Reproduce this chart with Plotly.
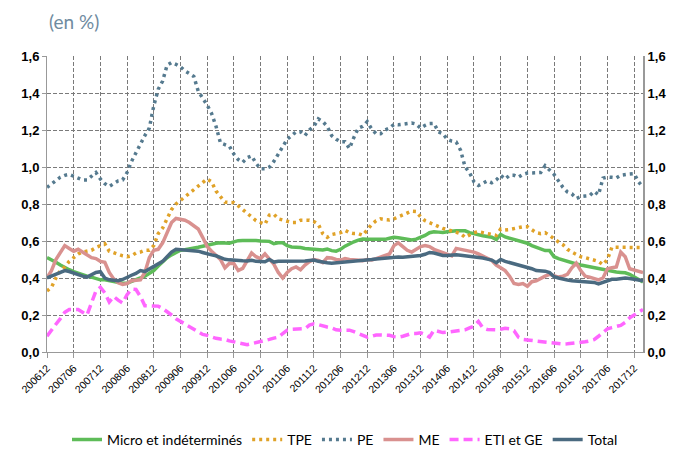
import plotly.graph_objects as go

# Monthly categories 200612 .. 201802
months = [f"{2006 + (11 + k) // 12}{(11 + k) % 12 + 1:02d}" for k in range(135)]

tick_labels = ["200612", "200706", "200712", "200806", "200812", "200906", "200912",
               "201006", "201012", "201106", "201112", "201206", "201212", "201306",
               "201312", "201406", "201412", "201506", "201512", "201606", "201612",
               "201706", "201712"]

micro = [0.51, 0.50, 0.485, 0.47, 0.455, 0.445, 0.435, 0.425, 0.415, 0.41,
         0.405, 0.395, 0.39, 0.39, 0.385, 0.38, 0.375, 0.372, 0.372, 0.38,
         0.39, 0.40, 0.41, 0.425, 0.44, 0.465, 0.49, 0.51, 0.525, 0.54,
         0.55, 0.553, 0.556, 0.56, 0.566, 0.572, 0.578, 0.585, 0.588, 0.59,
         0.59, 0.588, 0.595, 0.602, 0.603, 0.604, 0.605, 0.603, 0.60, 0.598,
         0.598, 0.585, 0.59, 0.59, 0.575, 0.568, 0.567, 0.565, 0.56, 0.557,
         0.555, 0.552, 0.551, 0.557, 0.548, 0.545, 0.555, 0.572, 0.585, 0.596,
         0.605, 0.611, 0.61, 0.609, 0.61, 0.609, 0.609, 0.615, 0.62, 0.618,
         0.614, 0.61, 0.605, 0.61, 0.618, 0.63, 0.645, 0.65, 0.648, 0.646,
         0.65, 0.655, 0.656, 0.656, 0.655, 0.645, 0.638, 0.633, 0.628, 0.624,
         0.62, 0.608, 0.635, 0.622, 0.615, 0.608, 0.602, 0.596, 0.588, 0.575,
         0.565, 0.553, 0.548, 0.548, 0.515, 0.505, 0.497, 0.49, 0.482, 0.476,
         0.47, 0.465, 0.46, 0.455, 0.45, 0.445, 0.44, 0.435, 0.432, 0.43,
         0.428, 0.42, 0.405, 0.39, 0.378]

tpe = [0.33, 0.35, 0.40, 0.44, 0.46, 0.49, 0.51, 0.53, 0.54, 0.545,
       0.55, 0.565, 0.575, 0.585, 0.545, 0.535, 0.53, 0.52, 0.515, 0.52,
       0.535, 0.54, 0.55, 0.55, 0.575, 0.64, 0.67, 0.72, 0.77, 0.80,
       0.82, 0.84, 0.855, 0.877, 0.90, 0.92, 0.935, 0.92, 0.87, 0.84,
       0.81, 0.808, 0.807, 0.79, 0.77, 0.75, 0.73, 0.71, 0.70, 0.69,
       0.74, 0.745, 0.72, 0.712, 0.708, 0.70, 0.70, 0.712, 0.712, 0.712,
       0.705, 0.69, 0.64, 0.62, 0.635, 0.638, 0.645, 0.658, 0.645, 0.64,
       0.64, 0.631, 0.66, 0.69, 0.71, 0.72, 0.716, 0.714, 0.72, 0.73,
       0.74, 0.75, 0.762, 0.76, 0.73, 0.71, 0.70, 0.685, 0.675, 0.668,
       0.662, 0.656, 0.648, 0.64, 0.62, 0.635, 0.645, 0.65, 0.645, 0.638,
       0.635, 0.63, 0.665, 0.66, 0.662, 0.667, 0.672, 0.677, 0.677, 0.66,
       0.645, 0.64, 0.645, 0.63, 0.61, 0.595, 0.58, 0.555, 0.54, 0.525,
       0.515, 0.51, 0.503, 0.498, 0.49, 0.472, 0.50, 0.566, 0.566, 0.566,
       0.566, 0.566, 0.565, 0.565, 0.565]

pe = [0.89, 0.91, 0.93, 0.945, 0.955, 0.96, 0.95, 0.94, 0.93, 0.93,
      0.95, 0.97, 0.935, 0.91, 0.895, 0.91, 0.925, 0.93, 0.97, 1.03,
      1.08, 1.13, 1.17, 1.21, 1.33, 1.42, 1.465, 1.55, 1.565, 1.555,
      1.542, 1.52, 1.505, 1.49, 1.41, 1.375, 1.335, 1.29, 1.22, 1.13,
      1.12, 1.112, 1.07, 1.04, 1.025, 1.05, 1.06, 1.02, 0.99, 0.99,
      1.00, 1.03, 1.07, 1.11, 1.15, 1.17, 1.19, 1.19, 1.17, 1.20,
      1.22, 1.26, 1.245, 1.22, 1.17, 1.15, 1.137, 1.137, 1.10, 1.16,
      1.21, 1.22, 1.245, 1.205, 1.18, 1.18, 1.20, 1.21, 1.23, 1.228,
      1.23, 1.235, 1.238, 1.232, 1.21, 1.225, 1.235, 1.236, 1.19, 1.18,
      1.15, 1.14, 1.135, 1.09, 1.00, 0.97, 0.92, 0.90, 0.91, 0.925,
      0.915, 0.93, 0.955, 0.935, 0.955, 0.955, 0.945, 0.96, 0.967, 0.969,
      0.969, 0.97, 1.007, 0.985, 0.96, 0.925, 0.89, 0.865, 0.855, 0.83,
      0.84, 0.843, 0.845, 0.868, 0.85, 0.94, 0.946, 0.944, 0.941, 0.955,
      0.96, 0.962, 0.964, 0.92, 0.89]

me = [0.40, 0.44, 0.50, 0.54, 0.575, 0.56, 0.545, 0.555, 0.54, 0.52,
      0.51, 0.505, 0.49, 0.485, 0.43, 0.395, 0.375, 0.365, 0.37, 0.385,
      0.388, 0.39, 0.43, 0.51, 0.55, 0.555, 0.59, 0.65, 0.70, 0.722,
      0.718, 0.712, 0.70, 0.685, 0.665, 0.62, 0.57, 0.545, 0.525, 0.50,
      0.455, 0.479, 0.478, 0.44, 0.452, 0.49, 0.535, 0.515, 0.505, 0.53,
      0.50, 0.475, 0.43, 0.40, 0.43, 0.45, 0.46, 0.445, 0.47, 0.488,
      0.50, 0.495, 0.483, 0.51, 0.508, 0.50, 0.497, 0.505, 0.50, 0.498,
      0.495, 0.494, 0.50, 0.498, 0.505, 0.515, 0.52, 0.53, 0.575, 0.59,
      0.57, 0.55, 0.54, 0.555, 0.57, 0.575, 0.57, 0.555, 0.545, 0.535,
      0.525, 0.52, 0.56, 0.555, 0.55, 0.547, 0.54, 0.53, 0.52, 0.51,
      0.495, 0.47, 0.455, 0.44, 0.41, 0.37, 0.365, 0.37, 0.355, 0.38,
      0.385, 0.395, 0.41, 0.42, 0.41, 0.405, 0.41, 0.42, 0.455, 0.48,
      0.44, 0.41, 0.405, 0.395, 0.39, 0.40, 0.45, 0.455, 0.46, 0.54,
      0.515, 0.45, 0.442, 0.435, 0.43]

eti = [0.085, 0.12, 0.15, 0.18, 0.215, 0.23, 0.232, 0.23, 0.215, 0.20,
       0.265, 0.33, 0.35, 0.32, 0.27, 0.30, 0.28, 0.265, 0.31, 0.34,
       0.338, 0.30, 0.25, 0.25, 0.25, 0.248, 0.235, 0.22, 0.20, 0.18,
       0.165, 0.155, 0.14, 0.125, 0.11, 0.095, 0.09, 0.08, 0.074, 0.07,
       0.068, 0.06, 0.055, 0.048, 0.042, 0.04, 0.045, 0.05, 0.055, 0.06,
       0.068, 0.075, 0.08, 0.10, 0.118, 0.122, 0.123, 0.124, 0.126, 0.145,
       0.152, 0.148, 0.14, 0.135, 0.13, 0.12, 0.118, 0.12, 0.118, 0.11,
       0.10, 0.085, 0.08, 0.085, 0.092, 0.092, 0.09, 0.09, 0.083, 0.08,
       0.085, 0.092, 0.10, 0.10, 0.104, 0.095, 0.08, 0.118, 0.112, 0.105,
       0.107, 0.11, 0.113, 0.117, 0.12, 0.13, 0.14, 0.165, 0.13, 0.122,
       0.12, 0.12, 0.123, 0.128, 0.125, 0.115, 0.08, 0.068, 0.065, 0.062,
       0.06, 0.056, 0.056, 0.05, 0.047, 0.044, 0.043, 0.044, 0.046, 0.049,
       0.052, 0.055, 0.06, 0.067, 0.085, 0.108, 0.125, 0.132, 0.138, 0.144,
       0.16, 0.185, 0.20, 0.215, 0.23]

total = [0.40, 0.41, 0.42, 0.43, 0.44, 0.435, 0.425, 0.418, 0.41, 0.405,
         0.42, 0.43, 0.434, 0.40, 0.39, 0.387, 0.385, 0.392, 0.405, 0.415,
         0.425, 0.44, 0.435, 0.45, 0.46, 0.475, 0.49, 0.515, 0.54, 0.555,
         0.553, 0.551, 0.551, 0.55, 0.545, 0.538, 0.53, 0.525, 0.52, 0.51,
         0.501, 0.498, 0.495, 0.494, 0.493, 0.492, 0.496, 0.49, 0.49, 0.488,
         0.50, 0.486, 0.49, 0.49, 0.49, 0.492, 0.492, 0.492, 0.492, 0.495,
         0.497, 0.49, 0.484, 0.482, 0.48, 0.482, 0.484, 0.485, 0.486, 0.488,
         0.49, 0.494, 0.496, 0.50, 0.503, 0.506, 0.508, 0.512, 0.515, 0.514,
         0.512, 0.514, 0.518, 0.52, 0.522, 0.528, 0.538, 0.535, 0.528, 0.522,
         0.522, 0.524, 0.526, 0.523, 0.52, 0.519, 0.516, 0.513, 0.508, 0.502,
         0.497, 0.483, 0.50, 0.49, 0.484, 0.477, 0.47, 0.463, 0.458, 0.45,
         0.44, 0.438, 0.437, 0.43, 0.407, 0.40, 0.393, 0.389, 0.385, 0.383,
         0.381, 0.38, 0.379, 0.376, 0.368, 0.378, 0.388, 0.393, 0.393, 0.398,
         0.40, 0.397, 0.393, 0.388, 0.385]

series = [
    ("Micro et indéterminés", micro, "#5EBC58", "solid", 3.5),
    ("TPE", tpe, "#E0A228", "3px,4px", 3.5),
    ("PE", pe, "#557A8F", "3px,4px", 3.5),
    ("ME", me, "#D9918F", "solid", 3.5),
    ("ETI et GE", eti, "#FF66FF", "9px,5px", 3.5),
    ("Total", total, "#4A6A80", "solid", 3.5),
]

fig = go.Figure()
for name, vals, color, dash, w in series:
    fig.add_trace(go.Scatter(x=months, y=vals, name=name, mode="lines",
                             line=dict(color=color, width=w, dash=dash)))

# invisible trace to activate right axis
fig.add_trace(go.Scatter(x=[months[0]], y=[None], yaxis="y2", showlegend=False,
                         hoverinfo="skip", mode="lines"))

axis_font = dict(family="Liberation Sans", size=13, color="black", weight="bold")
grid = dict(showgrid=True, gridcolor="#7a7a7a", griddash="4px,2px", gridwidth=1)

fig.update_layout(
    width=683, height=452,
    margin=dict(l=47, r=40, t=56, b=100, autoexpand=False),
    paper_bgcolor="white", plot_bgcolor="white",
    separators=",.",
    font=dict(family="Lato", color="black"),
    showlegend=True,
    legend=dict(orientation="h", x=0.5, xanchor="center", y=-0.297, yanchor="middle",
                font=dict(family="Lato", size=14, color="black"),
                itemwidth=30, tracegroupgap=0),
    xaxis=dict(type="category", categoryorder="array", categoryarray=months,
               range=[0, 134], tickmode="array", tickvals=tick_labels, ticktext=tick_labels,
               tickangle=-45, tickfont=dict(family="Liberation Sans", size=10.5, color="black"),
               showline=True, linecolor="#999999", linewidth=1, automargin=False,
               ticks="outside", ticklen=5, tickcolor="#999999", zeroline=False, **grid),
    yaxis=dict(range=[0, 1.6], dtick=0.2, tick0=0, tickformat=".1f", tickfont=axis_font,
               showline=True, linecolor="#999999", linewidth=1, ticks="outside", ticklen=4,
               tickcolor="#999999", zeroline=False, automargin=False, **grid),
    yaxis2=dict(range=[0, 1.6], dtick=0.2, tick0=0, tickformat=".1f", tickfont=axis_font,
                overlaying="y", side="right", showgrid=False, showline=True,
                linecolor="#999999", linewidth=2, ticks="", zeroline=False, automargin=False),
    annotations=[dict(text="(en %)", xref="paper", yref="paper", x=0.0, y=1.115,
                      xanchor="left", yanchor="middle", showarrow=False,
                      font=dict(family="Lato", size=19, color="#6F8BA0"))],
)

fig.write_html("out.html", config={"displayModeBar": False},
               post_script="document.body.style.margin='0';document.body.style.overflow='hidden';")
